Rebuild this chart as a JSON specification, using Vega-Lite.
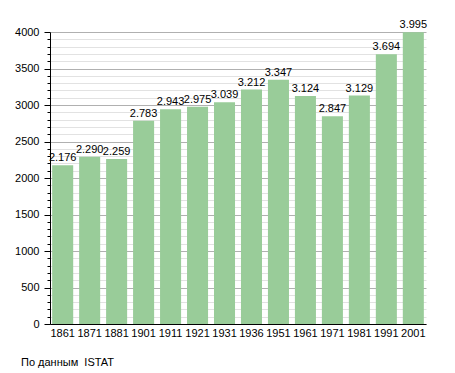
{
  "$schema": "https://vega.github.io/schema/vega-lite/v6.json",
  "width": 376,
  "height": 292,
  "autosize": {"type": "none"},
  "padding": {"left": 50, "top": 32, "right": 29, "bottom": 49},
  "background": "white",
  "config": {
    "view": {"stroke": null},
    "font": "Liberation Sans",
    "locale": {"number": {"decimal": ",", "thousands": ".", "grouping": [3], "currency": ["", ""]}}
  },
  "title": {
    "text": "По данным\u00a0 ISTAT",
    "orient": "bottom",
    "anchor": "start",
    "frame": "group",
    "dx": -29,
    "offset": 19,
    "fontSize": 11,
    "fontWeight": "normal",
    "color": "black",
    "font": "Liberation Sans"
  },
  "data": {
    "values": [
      {"year": "1861", "pop": 2176},
      {"year": "1871", "pop": 2290},
      {"year": "1881", "pop": 2259},
      {"year": "1901", "pop": 2783},
      {"year": "1911", "pop": 2943},
      {"year": "1921", "pop": 2975},
      {"year": "1931", "pop": 3039},
      {"year": "1936", "pop": 3212},
      {"year": "1951", "pop": 3347},
      {"year": "1961", "pop": 3124},
      {"year": "1971", "pop": 2847},
      {"year": "1981", "pop": 3129},
      {"year": "1991", "pop": 3694},
      {"year": "2001", "pop": 3995}
    ]
  },
  "encoding": {
    "x": {
      "field": "year",
      "type": "ordinal",
      "sort": null,
      "scale": {"paddingInner": 0.22, "paddingOuter": 0.08},
      "axis": {
        "title": null,
        "labelAngle": 0,
        "ticks": false,
        "domainColor": "black",
        "labelColor": "black",
        "labelFontSize": 11,
        "labelPadding": 3,
        "labelFont": "Liberation Sans"
      }
    },
    "y": {
      "field": "pop",
      "type": "quantitative",
      "scale": {"domain": [0, 4000], "nice": false},
      "axis": {
        "title": null,
        "values": [0,100,200,300,400,500,600,700,800,900,1000,1100,1200,1300,1400,1500,1600,1700,1800,1900,2000,2100,2200,2300,2400,2500,2600,2700,2800,2900,3000,3100,3200,3300,3400,3500,3600,3700,3800,3900,4000],
        "labelExpr": "datum.value % 500 === 0 ? format(datum.value, 'd') : ''",
        "grid": true,
        "gridColor": {"condition": {"test": "datum.value % 500 === 0", "value": "#b0b0b0"}, "value": "#e2e2e2"},
        "tickSize": {"condition": {"test": "datum.value % 500 === 0", "value": 6}, "value": 3},
        "tickColor": "black",
        "domainColor": "black",
        "labelColor": "black",
        "labelFontSize": 11,
        "labelPadding": 5,
        "labelFont": "Liberation Sans"
      }
    }
  },
  "layer": [
    {"mark": {"type": "bar", "color": "#99cc99"}},
    {
      "mark": {"type": "text", "baseline": "bottom", "dy": -2, "fontSize": 11, "color": "black", "font": "Liberation Sans"},
      "encoding": {"text": {"field": "pop", "type": "quantitative", "format": ",d"}}
    }
  ]
}
